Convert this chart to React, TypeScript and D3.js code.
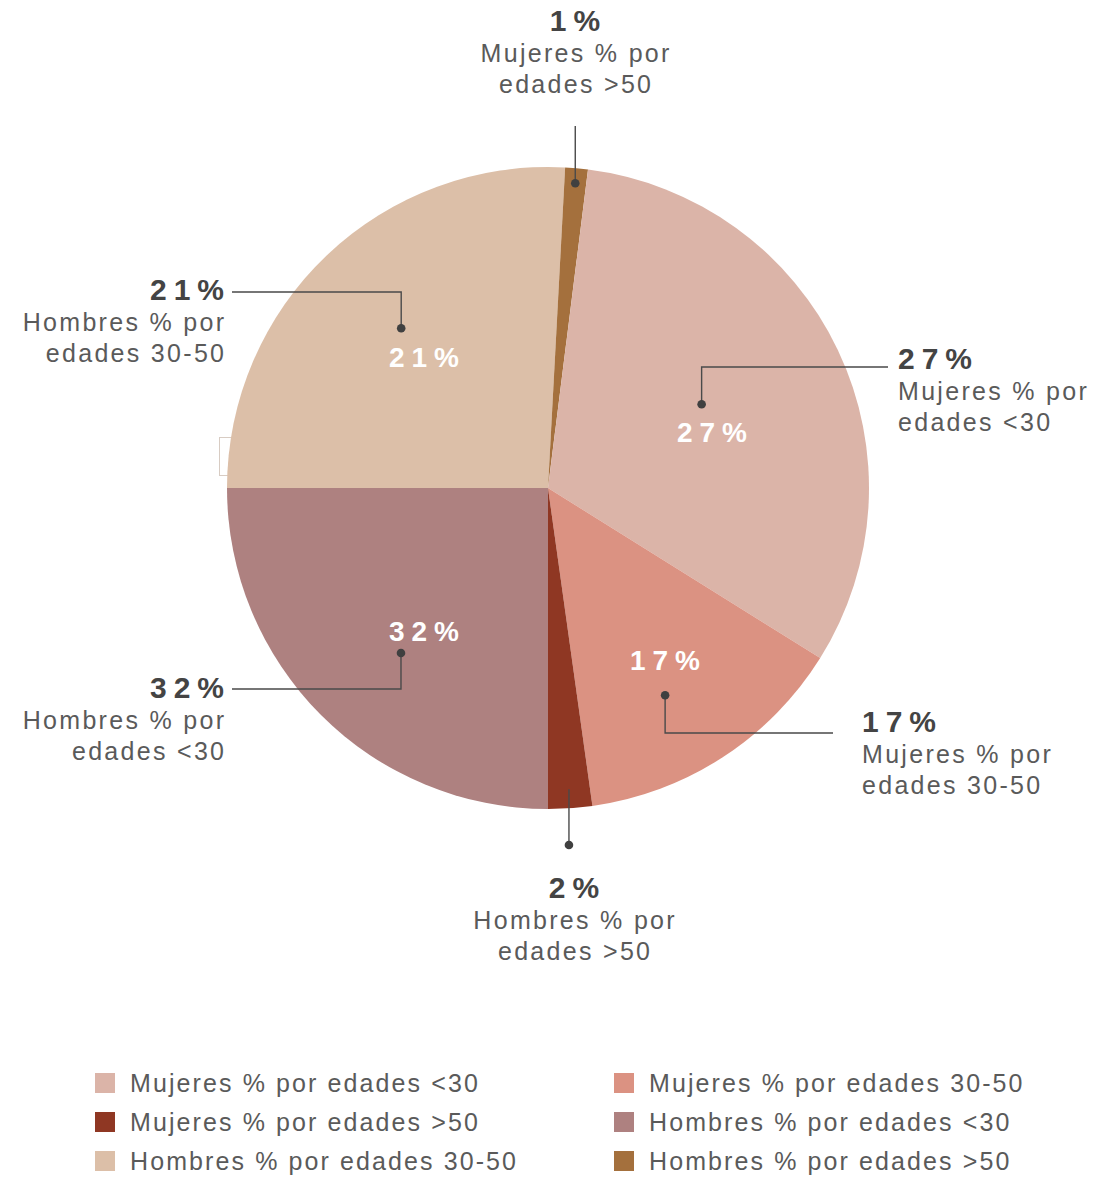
import React from 'react';
import * as d3 from 'd3';

// Slices, clockwise starting at 9 o'clock (% of circle)
const sliceNames = [
  'Hombres % por edades 30-50',
  'Hombres % por edades >50',
  'Mujeres % por edades <30',
  'Mujeres % por edades 30-50',
  'Mujeres % por edades >50',
  'Hombres % por edades <30',
];
const sliceValues = [25.85, 1.14, 31.9, 13.9, 2.21, 25.0];
const sliceColors = ['#DCBFA8', '#A4703D', '#DBB4A8', '#DB9282', '#8F3723', '#AE8180'];

// Labels shown per slice (as printed on the chart)
const labelPct = ['21%', '1%', '27%', '17%', '2%', '32%'];
const labelLine1 = ['Hombres % por', 'Mujeres % por', 'Mujeres % por', 'Mujeres % por', 'Hombres % por', 'Hombres % por'];
const labelLine2 = ['edades 30-50', 'edades >50', 'edades <30', 'edades 30-50', 'edades >50', 'edades <30'];
const innerLabel = [true, false, true, true, false, true];

// Legend (row-major, two columns)
const legendNames = [
  'Mujeres % por edades <30',
  'Mujeres % por edades 30-50',
  'Mujeres % por edades >50',
  'Hombres % por edades <30',
  'Hombres % por edades 30-50',
  'Hombres % por edades >50',
];
const legendColors = ['#DBB4A8', '#DB9282', '#8F3723', '#AE8180', '#DCBFA8', '#A4703D'];

const W = 1117;
const H = 1178;
const cx = 548;
const cy = 488;
const R = 321;

// annotation layout per slice
type Ann = {
  angOff: number; // degrees offset from mid-angle for dot
  dotR: number;
  route: 'vh' | 'v';
  elbowY: number;
  endX?: number;
  tx: number;
  ty: number;
  anchor: 'start' | 'end' | 'middle';
  inner?: [number, number];
  lineStartR?: number;
};
const annLayout: Ann[] = [
  { angOff: 0.9, dotR: 217, route: 'vh', elbowY: 292, endX: 232, tx: 224, ty: 300, anchor: 'end', inner: [-124, -131] },
  { angOff: 0, dotR: 306, route: 'v', elbowY: 126, tx: 575, ty: 31, anchor: 'middle' },
  { angOff: -3.2, dotR: 175, route: 'vh', elbowY: 367, endX: 888, tx: 898, ty: 369, anchor: 'start', inner: [164, -56] },
  { angOff: 3.5, dotR: 238, route: 'vh', elbowY: 733, endX: 833, tx: 862, ty: 732, anchor: 'start', inner: [117, 172] },
  { angOff: 0, dotR: 357, route: 'v', elbowY: 790, tx: 574, ty: 898, anchor: 'middle', lineStartR: 302 },
  { angOff: -3.3, dotR: 221, route: 'vh', elbowY: 689, endX: 232, tx: 224, ty: 698, anchor: 'end', inner: [-124, 143] },
];

const FONT = '"Liberation Sans", Arial, Helvetica, sans-serif';
const BODY_LS = 2.3;
const LEGEND_LS = 2.1;
const BOLD_LS = 7;

function polar(angle: number, r: number): [number, number] {
  return [cx + r * Math.sin(angle), cy - r * Math.cos(angle)];
}

function shiftFor(anchor: string, ls: number) {
  if (anchor === 'end') return ls;
  if (anchor === 'middle') return ls / 2;
  return 0;
}

export default function App() {
  const pie = d3
    .pie<number>()
    .sort(null)
    .value((d) => d)
    .startAngle(-Math.PI / 2)
    .endAngle((3 * Math.PI) / 2);
  const arcs = pie(sliceValues);
  const arc = d3.arc<d3.PieArcDatum<number>>().innerRadius(0).outerRadius(R);

  return (
    <svg
      width={W}
      height={H}
      style={{ position: 'absolute', left: 0, top: 0, background: '#fff' }}
      fontFamily={FONT}
    >
      {/* faint stray box at left edge */}
      <rect x={219.5} y={437.5} width={12} height={38} fill="none" stroke="#D8CCC3" strokeWidth={1} />

      <g transform={`translate(${cx},${cy})`}>
        {arcs.map((a, i) => (
          <path key={sliceNames[i]} d={arc(a) || ''} fill={sliceColors[i]} />
        ))}
      </g>

      {arcs.map((a, i) => {
        const L = annLayout[i];
        const mid = (a.startAngle + a.endAngle) / 2 + (L.angOff * Math.PI) / 180;
        const [dx0, dy0] = polar(mid, L.dotR);
        let pathD = '';
        let dot: [number, number] = [dx0, dy0];
        if (L.route === 'vh') {
          pathD = `M${dx0},${dy0}V${L.elbowY}H${L.endX}`;
        } else if (L.lineStartR) {
          const [sx, sy] = polar(mid, L.lineStartR);
          dot = [sx, cy + L.dotR];
          pathD = `M${sx},${sy}V${dot[1]}`;
        } else {
          pathD = `M${dx0},${dy0}V${L.elbowY}`;
        }
        const bShift = shiftFor(L.anchor, BOLD_LS);
        const tShift = shiftFor(L.anchor, BODY_LS);
        return (
          <g key={'ann' + i}>
            <path d={pathD} fill="none" stroke="#4a4a4a" strokeWidth={1.4} />
            <circle cx={dot[0]} cy={dot[1]} r={4.3} fill="#404040" />
            <text
              x={L.tx + bShift}
              y={L.ty}
              textAnchor={L.anchor}
              fontSize={30}
              fontWeight="bold"
              letterSpacing={BOLD_LS}
              fill="#444"
            >
              {labelPct[i]}
            </text>
            <text x={L.tx + tShift} y={L.ty + 31} textAnchor={L.anchor} fontSize={25} letterSpacing={BODY_LS} fill="#5a5a5a">
              {labelLine1[i]}
            </text>
            <text x={L.tx + tShift} y={L.ty + 62} textAnchor={L.anchor} fontSize={25} letterSpacing={BODY_LS} fill="#5a5a5a">
              {labelLine2[i]}
            </text>
            {innerLabel[i] && L.inner && (
              <text
                x={cx + L.inner[0] + BOLD_LS / 2}
                y={cy + L.inner[1] + 10}
                textAnchor="middle"
                fontSize={28}
                fontWeight="bold"
                letterSpacing={BOLD_LS}
                fill="#fff"
              >
                {labelPct[i]}
              </text>
            )}
          </g>
        );
      })}

      {legendNames.map((name, i) => {
        const col = i % 2;
        const row = Math.floor(i / 2);
        const x = col === 0 ? 95 : 614;
        const y = 1073 + row * 39;
        return (
          <g key={name}>
            <rect x={x} y={y} width={20} height={20} fill={legendColors[i]} />
            <text x={x + 35} y={y + 19} fontSize={25} letterSpacing={LEGEND_LS} fill="#5a5a5a">
              {name}
            </text>
          </g>
        );
      })}
    </svg>
  );
}
